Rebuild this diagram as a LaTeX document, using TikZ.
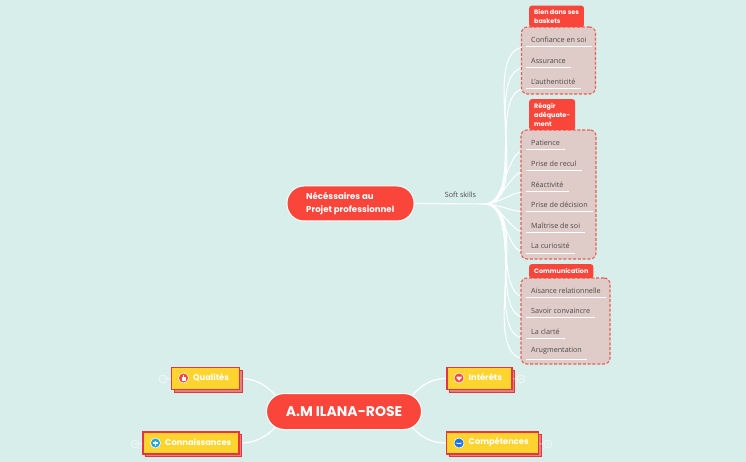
\documentclass[tikz,border=0pt]{standalone}
\usepackage{fontspec}
\setmainfont{Open Sans}
\newfontfamily\headfont{Poppins}
\usetikzlibrary{arrows.meta, positioning, calc}
\definecolor{bgcolor}{HTML}{D8EEEB}
\definecolor{topiccolor}{HTML}{F9453A}
\definecolor{groupcolor}{HTML}{DFCCC8}
\definecolor{dashcolor}{HTML}{EA5C54}
\definecolor{yellowcolor}{HTML}{FFD42F}
\definecolor{framecolor}{HTML}{E8343A}
\definecolor{shadowcolor}{HTML}{D98585}
\definecolor{inkcolor}{HTML}{4A4A4A}
\definecolor{skycolor}{HTML}{22A7E0}
\definecolor{bluecolor}{HTML}{1A73E8}
\pgfdeclarelayer{background}
\pgfsetlayers{background,main}
\tikzset{
  topicbox/.style={draw=white, line width=1pt, fill=topiccolor, text=white, rounded corners=17pt, inner sep=0pt},
  groupbox/.style={draw=dashcolor, line width=1.1pt, dash pattern=on 3pt off 1.8pt, fill=groupcolor, rounded corners=6pt, inner sep=0pt},
  titlebox/.style={fill=topiccolor, text=white, rounded corners=2.5pt, inner sep=0pt, inner xsep=5pt, font=\headfont\fontsize{6.4}{9}\selectfont\bfseries, align=left, anchor=north west},
  leaf/.style={anchor=south west, inner xsep=5pt, inner ysep=4.2pt, text=inkcolor, font=\fontsize{7.2}{8}\selectfont},
  sideback/.style={fill=shadowcolor, draw=framecolor, line width=0.5pt, inner sep=0pt},
  sidebox/.style={fill=yellowcolor, draw=framecolor, line width=1.5pt, inner sep=0pt},
  sidetext/.style={text=white, font=\headfont\fontsize{8.3}{10}\selectfont\bfseries, inner sep=0pt},
  badge/.style={circle, draw=white, line width=0.4pt, minimum size=8pt, inner sep=0pt, text=white, font=\fontsize{3.5}{4}\selectfont},
  branch/.style={draw=white, line width=1pt},
  icon/.style={circle, draw=white, line width=0.6pt, minimum size=10pt, inner sep=0pt}
}
\begin{document}
\begin{tikzpicture}[x=1pt, y=-1pt]
    \useasboundingbox (0,0) rectangle (746,462);
    \begin{pgfonlayer}{background}
        \fill[bgcolor] (0,0) rectangle (746,462);
    \end{pgfonlayer}

    % Upper topic
    \node[topicbox, minimum width=127pt, minimum height=35pt] (projet) at (350.5,203.5) {};
    \node[text=white, font=\headfont\fontsize{8.6}{13.5}\selectfont\bfseries, align=left, anchor=west, inner sep=0pt] (projettext) at (306,203.5) {Nécéssaires au\\Projet professionnel};
    \node[text=inkcolor, font=\fontsize{7.2}{8}\selectfont, inner sep=0pt] (soft) at (460.5,195) {Soft skills};
    \coordinate (hub) at (485,204);

    % Groups
    \node[groupbox, minimum width=74pt, minimum height=67pt] (groupa) at (558.5,60.5) {};
    \node[groupbox, minimum width=75pt, minimum height=129pt] (groupb) at (558.5,194.5) {};
    \node[groupbox, minimum width=89pt, minimum height=86pt] (groupc) at (565.5,321) {};

    \node[titlebox, minimum height=21.5pt] (titlea) at (529,5.5) {Bien dans ses\\baskets};
    \node[titlebox, minimum height=31pt] (titleb) at (529,99) {Réagir\\adéquate-\\ment};
    \node[titlebox, minimum height=14pt] (titlec) at (529,264) {Communication};

    % Leaves
    \node[leaf] (confiance) at (526,47) {Confiance en soi};
    \node[leaf] (assurance) at (526,67.5) {Assurance};
    \node[leaf] (authentique) at (526,88.5) {L'authenticité};
    \node[leaf] (patience) at (526,150) {Patience};
    \node[leaf] (recul) at (526,171) {Prise de recul};
    \node[leaf] (reactif) at (526,191.5) {Réactivité};
    \node[leaf] (decision) at (526,212) {Prise de décision};
    \node[leaf] (maitrise) at (526,232.5) {Maîtrise de soi};
    \node[leaf] (curieux) at (526,253) {La curiosité};
    \node[leaf] (aisance) at (526,297.5) {Aisance relationnelle};
    \node[leaf] (savoir) at (526,317.5) {Savoir convaincre};
    \node[leaf] (clarte) at (526,338.5) {La clarté};
    \node[leaf] (argument) at (526,359) {Arugmentation};

    \foreach \name in {confiance,assurance,authentique,patience,recul,reactif,decision,maitrise,curieux,aisance,savoir,clarte,argument}
        \draw[branch] (\name.south west) -- (\name.south east);

    \begin{pgfonlayer}{background}
        \draw[branch, line width=1.1pt] (projet.east) -- (hub);
        \foreach \name in {confiance,assurance,authentique,patience,recul,reactif,decision,maitrise,curieux,aisance,savoir,clarte,argument}
            \draw[branch] (hub) to[out=0, in=180, looseness=0.8] (\name.south west);
    \end{pgfonlayer}

    % Central topic
    \node[topicbox, minimum width=155pt, minimum height=36pt, rounded corners=18pt, font=\headfont\fontsize{14}{16}\selectfont\bfseries] (centre) at (344,411.5) {A.M ILANA-ROSE};

    % Side topics
    \node[sideback, minimum width=68pt, minimum height=22pt] (qualback) at (208,381) {};
    \node[sidebox, minimum width=68pt, minimum height=22pt] (qualites) at (205.5,378.5) {};
    \node[sideback, minimum width=96pt, minimum height=22pt] (connback) at (193.5,445.5) {};
    \node[sidebox, minimum width=96pt, minimum height=22pt] (connais) at (191,443) {};
    \node[sideback, minimum width=65pt, minimum height=22pt] (interback) at (482,381) {};
    \node[sidebox, minimum width=65pt, minimum height=22pt] (interets) at (479.5,378.5) {};
    \node[sideback, minimum width=92pt, minimum height=22pt] (compback) at (495,445.5) {};
    \node[sidebox, minimum width=92pt, minimum height=22pt] (compet) at (492.5,443) {};

    \node[sidetext, anchor=west] at (193,377.5) {Qualités};
    \node[sidetext, anchor=west] at (165,442.5) {Connaissances};
    \node[sidetext, anchor=west] at (468.5,377.5) {Intérêts};
    \node[sidetext, anchor=west] at (468.5,442.5) {Compétences};

    \node[icon, fill=topiccolor] (iconq) at (183.5,378) {};
    \fill[white] (181.5,376.5) rectangle (185.5,380.5);
    \fill[white] (182.8,375) rectangle (184.2,377);
    \node[icon, fill=skycolor] (iconc) at (155.5,443) {};
    \fill[white] (154.7,440.5) rectangle (156.3,445.5);
    \fill[white] (153,442.2) rectangle (158,443.8);
    \node[icon, fill=topiccolor] (iconi) at (459,378) {};
    \fill[white] (456.5,376.5) -- (461.5,376.5) -- (461.5,378) -- (459,380.8) -- (456.5,378) -- cycle;
    \node[icon, fill=bluecolor] (iconk) at (459,443) {};
    \draw[white, line width=0.6pt, {Stealth[length=1.5pt]}-{Stealth[length=1.5pt]}] (456,443) -- (462,443);

    % Badges
    \node[badge] (badgeq) at (163,379) {17};
    \node[badge] (badgec) at (135,444) {54};
    \node[badge] (badgei) at (521,379) {25};
    \node[badge] (badgek) at (548,444) {14};
    \draw[white, line width=0.5pt] (badgeq) -- (qualites);
    \draw[white, line width=0.5pt] (badgec) -- (connais);
    \draw[white, line width=0.5pt] (badgei) -- (interets);
    \draw[white, line width=0.5pt] (badgek) -- (compet);

    % Links of central topic
    \begin{pgfonlayer}{background}
        \draw[branch, line width=1.2pt] ($(centre.west)+(22,-2)$) to[out=130, in=0] (qualites.east);
        \draw[branch, line width=1.2pt] ($(centre.west)+(22,2)$) to[out=230, in=0] (connais.east);
        \draw[branch, line width=1.2pt] ($(centre.east)+(-22,-2)$) to[out=50, in=180] (interets.west);
        \draw[branch, line width=1.2pt] ($(centre.east)+(-22,2)$) to[out=310, in=180] (compet.west);
    \end{pgfonlayer}
\end{tikzpicture}
\end{document}
